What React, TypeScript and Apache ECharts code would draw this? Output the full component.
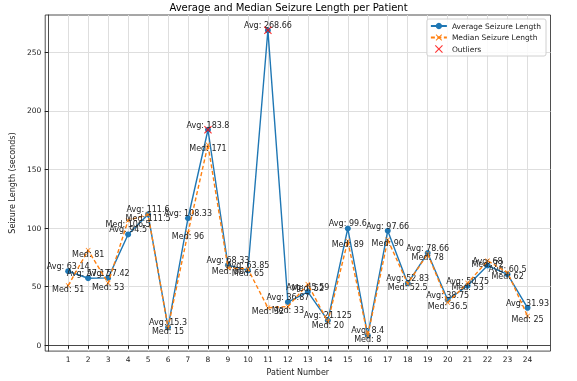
import React, { useEffect, useRef } from "react";
import * as echarts from "echarts";

const patients = [1, 2, 3, 4, 5, 6, 7, 8, 9, 10, 11, 12, 13, 14, 15, 16, 17, 18, 19, 20, 21, 22, 23, 24];
const avgValues = [63.14, 57.17, 57.42, 94.5, 111.6, 15.3, 108.33, 183.8, 68.33, 63.85, 268.66, 36.87, 45.59, 21.125, 99.6, 8.4, 97.66, 52.83, 78.66, 38.75, 50.75, 68, 60.5, 31.93];
const medValues = [51, 81, 53, 106.5, 111.5, 15, 96, 171, 66, 65, 32, 33, 52, 20, 89, 8, 90, 52.5, 78, 36.5, 53, 72, 62, 25];
const outlierPatients = [8, 11];
const outlierValues = [183.8, 268.66];
const yTicks = [0, 50, 100, 150, 200, 250];

const FONT = "DejaVu Sans";
const X_PATH = "path://M0,1 L1,0 L5,4 L9,0 L10,1 L6,5 L10,9 L9,10 L5,6 L1,10 L0,9 L4,5 Z";

export default function App() {
  const ref = useRef<HTMLDivElement>(null);
  useEffect(() => {
    if (!ref.current) return;
    const chart = echarts.init(ref.current, undefined, { renderer: "svg" });
    const avgData = patients.map((p, i) => [p, avgValues[i]]);
    const medData = patients.map((p, i) => [p, medValues[i]]);
    const outData = outlierPatients.map((p, i) => [p, outlierValues[i]]);
    chart.setOption({
      animation: false,
      textStyle: { fontFamily: FONT },
      title: {
        text: "Average and Median Seizure Length per Patient",
        left: "center",
        top: 2,
        padding: 0,
        textStyle: { fontFamily: FONT, fontSize: 10, fontWeight: "normal", color: "#000" },
      },
      legend: {
        orient: "vertical",
        right: 31,
        top: 19,
        itemWidth: 16,
        itemHeight: 8,
        itemGap: 3.5,
        padding: [3, 5, 3, 3],
        borderColor: "#d0d0d0",
        borderWidth: 1,
        borderRadius: 2,
        backgroundColor: "rgba(255,255,255,0.85)",
        textStyle: { fontFamily: FONT, fontSize: 7.5, color: "#222" },
        data: ["Average Seizure Length", "Median Seizure Length", "Outliers"],
      },
      grid: {
        left: 40,
        right: 26.5,
        top: 15,
        bottom: 27.5,
        show: true,
        borderColor: "#222",
        borderWidth: 0.8,
        backgroundColor: "transparent",
      },
      xAxis: {
        type: "value",
        min: -0.15,
        max: 25.15,
        name: "Patient Number",
        nameLocation: "middle",
        nameGap: 16,
        nameTextStyle: { fontFamily: FONT, fontSize: 8, color: "#222" },
        axisLine: { show: true, lineStyle: { color: "#222", width: 0.8 } },
        axisTick: { show: true, length: 3.5, customValues: patients, lineStyle: { color: "#222" } },
        axisLabel: { customValues: patients, fontFamily: FONT, fontSize: 7.5, color: "#222", margin: 4 },
        splitLine: { show: true, lineStyle: { color: "#dedede", width: 1 } },
      },
      yAxis: {
        type: "value",
        min: -5,
        max: 281.7,
        name: "Seizure Length (seconds)",
        nameLocation: "middle",
        nameGap: 25,
        nameTextStyle: { fontFamily: FONT, fontSize: 8, color: "#222" },
        axisLine: { show: true, lineStyle: { color: "#222", width: 0.8 } },
        axisTick: { show: true, length: 3.5, customValues: yTicks, lineStyle: { color: "#222" } },
        axisLabel: { customValues: yTicks, fontFamily: FONT, fontSize: 7.5, color: "#222", margin: 4 },
        splitLine: { show: true, lineStyle: { color: "#dedede", width: 1 } },
      },
      series: [
        {
          name: "Average Seizure Length",
          type: "line",
          data: avgData,
          symbol: "circle",
          symbolSize: 6,
          itemStyle: { color: "#1f77b4" },
          lineStyle: { color: "#1f77b4", width: 1.4 },
          label: {
            show: true,
            position: "inside",
            offset: [0, -4.5],
            formatter: (p: any) => "Avg: " + p.value[1],
            fontFamily: FONT,
            fontSize: 8,
            color: "#222",
          },
          z: 2,
        },
        {
          name: "Median Seizure Length",
          type: "line",
          data: medData,
          symbol: X_PATH,
          symbolSize: 5,
          itemStyle: { color: "#ff7f0e" },
          lineStyle: { color: "#ff7f0e", width: 1.4, type: [4, 2.5] },
          label: {
            show: true,
            position: "inside",
            offset: [0, 4],
            formatter: (p: any) => "Med: " + p.value[1],
            fontFamily: FONT,
            fontSize: 8,
            color: "#222",
          },
          z: 3,
        },
        {
          name: "Outliers",
          type: "scatter",
          data: outData,
          symbol: X_PATH,
          symbolSize: 8,
          itemStyle: { color: "#ff0000" },
          z: 4,
        },
      ],
    });
    return () => chart.dispose();
  }, []);
  return <div ref={ref} style={{ position: "fixed", left: 0, top: 0, width: 577, height: 381 }} />;
}
